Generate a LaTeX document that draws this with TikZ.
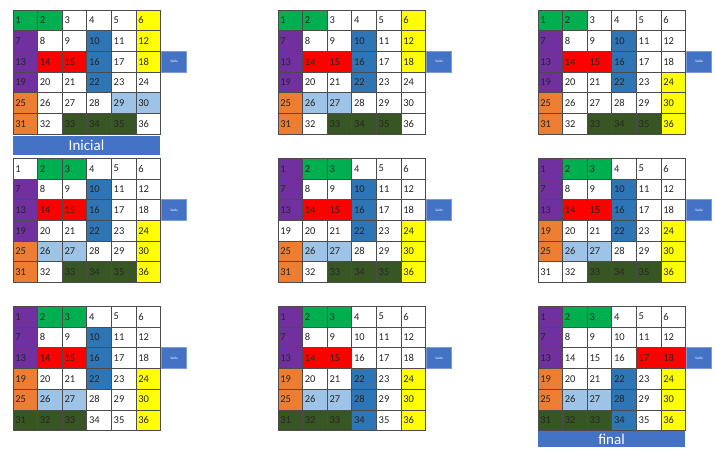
\documentclass[tikz,border=0pt]{standalone}
\usepackage{fontspec}
\setmainfont{Carlito}
\usepackage{tikz}

\definecolor{cG}{HTML}{00B050}
\definecolor{cP}{HTML}{7030A0}
\definecolor{cY}{HTML}{FFFF00}
\definecolor{cR}{HTML}{FF0000}
\definecolor{cB}{HTML}{2E75B6}
\definecolor{cL}{HTML}{9DC3E6}
\definecolor{cO}{HTML}{ED7D31}
\definecolor{cD}{HTML}{375623}
\definecolor{cW}{HTML}{FFFFFF}
\definecolor{azul}{HTML}{4472C4}

\begin{document}
\begin{tikzpicture}[x=1pt,y=-1pt,
    celula/.style={draw=black!70, line width=0.6pt, anchor=north west,
      minimum height=20.7pt, text width=19.6pt, inner xsep=2.5pt, inner ysep=2pt,
      align=left, font=\fontsize{10.5}{11}\selectfont, text=black!85},
    saida/.style={fill=azul, draw=azul!70, anchor=west, minimum width=25pt,
      minimum height=21pt, inner sep=0pt, text=white,
      font=\fontsize{3.5}{4}\selectfont},
    rotulo/.style={fill=azul, anchor=north west, minimum width=147.6pt,
      inner sep=0pt, text=white, font=\fontsize{15}{17}\selectfont}]
        \useasboundingbox (0,0) rectangle (715,449);

        % tabuleiros
        \foreach \bx/\by/\cores [count=\b] in {
        12.5/9.7/{G,G,W,W,W,Y,P,W,W,B,W,Y,P,R,R,B,W,Y,P,W,W,B,W,W,O,W,W,W,L,L,O,W,D,D,D,W},
        277.5/9.7/{G,G,W,W,W,Y,P,W,W,B,W,Y,P,R,R,B,W,Y,P,W,W,B,W,W,O,L,L,W,W,W,O,W,D,D,D,W},
        537.5/9.7/{G,G,W,W,W,W,P,W,W,B,W,W,P,R,R,B,W,W,P,W,W,B,W,Y,O,W,W,W,W,Y,O,W,D,D,D,Y},
        12.5/158/{W,G,G,W,W,W,P,W,W,B,W,W,P,R,R,B,W,W,P,W,W,B,W,Y,O,L,L,W,W,Y,O,W,D,D,D,Y},
        277.5/158/{P,G,G,W,W,W,P,W,W,B,W,W,P,R,R,B,W,W,W,W,W,B,W,Y,O,L,L,W,W,Y,O,W,D,D,D,Y},
        537.5/158/{P,G,G,W,W,W,P,W,W,B,W,W,P,R,R,B,W,W,O,W,W,B,W,Y,O,L,L,W,W,Y,W,W,D,D,D,Y},
        12.5/306/{P,G,G,W,W,W,P,W,W,B,W,W,P,R,R,B,W,W,O,W,W,B,W,Y,O,L,L,W,W,Y,D,D,D,W,W,Y},
        277.5/306/{P,G,G,W,W,W,P,W,W,W,W,W,P,R,R,W,W,W,O,W,W,B,W,Y,O,L,L,B,W,Y,D,D,D,B,W,Y},
        537.5/306/{P,G,G,W,W,W,P,W,W,W,W,W,P,W,W,W,R,R,O,W,W,B,W,Y,O,L,L,B,W,Y,D,D,D,B,W,Y}}
        {
          \foreach \c [count=\n] in \cores {
            \pgfmathtruncatemacro\col{mod(\n-1,6)}
            \pgfmathtruncatemacro\lin{div(\n-1,6)}
            \node[celula, fill=c\c] (t\b-\n) at ({\bx+24.6*\col},{\by+20.7*\lin}) {\n};
          }
          % saida
          \node[saida] (saida\b) at ([xshift=0.7pt]t\b-18.east) {Saída};
        }

        % rotulos
        \node[rotulo, minimum height=19pt] (inicial) at ([yshift=-1.5pt]t1-31.south west) {Inicial};
        \node[rotulo, minimum height=16pt] (final) at (t9-31.south west) {final};
    \end{tikzpicture}
\end{document}
